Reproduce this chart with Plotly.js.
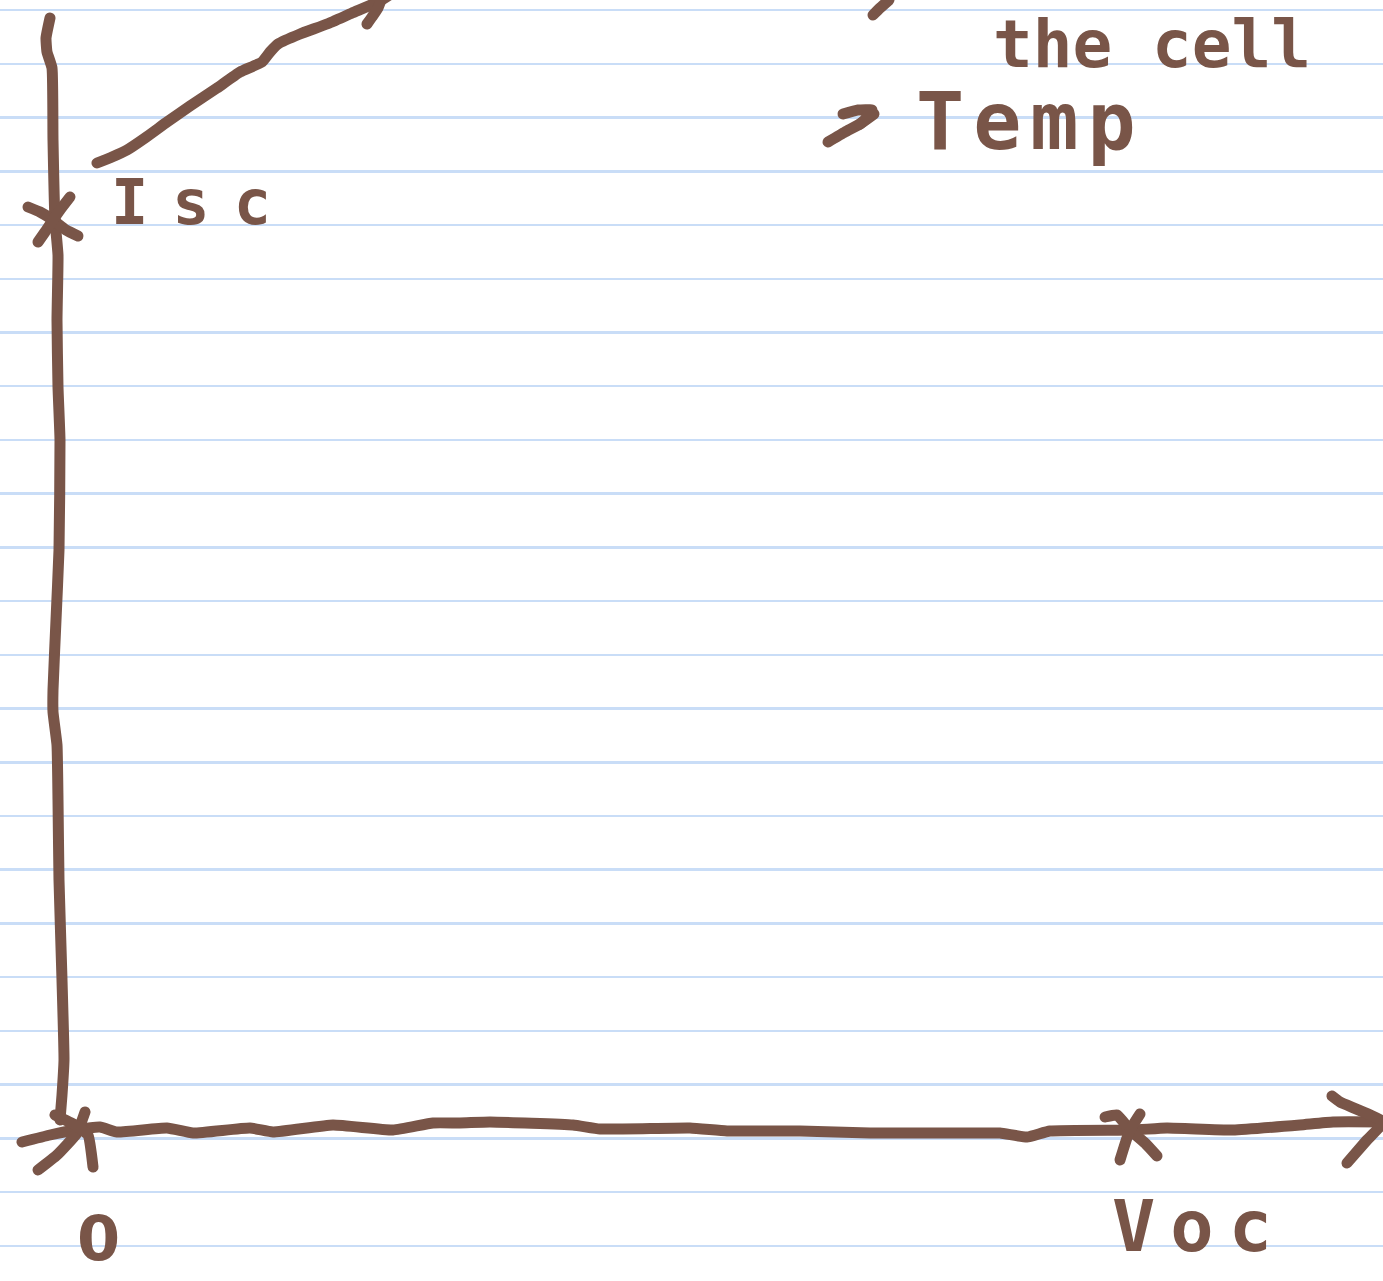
<!DOCTYPE html>
<html>
<head>
<meta charset="utf-8">
<script src="https://cdn.plot.ly/plotly-3.0.1.min.js"></script>
<style>
  html, body { margin: 0; padding: 0; background: #ffffff; }
  #chart { width: 1383px; height: 1281px; }
  .js-line { stroke-linecap: round !important; stroke-linejoin: round !important; }
</style>
</head>
<body>
<div id="chart"></div>
<script>
// ---- sketch strokes (page coordinates) ----
const yAxisX = [50,46,47,52,53,55,58,57,58,60,59,56,53,53,57,58,59,62,64,62,60];
const yAxisY = [18,38,52,68,140,220,255,320,387,440,550,620,690,712,745,800,880,980,1060,1095,1120];

const xAxisX = [22,50,75,100,117,167,193,250,273,333,393,433,460,490,573,600,690,727,800,870,970,1000,1027,1050,1133,1167,1233,1300,1333,1383];
const xAxisY = [1142,1135,1130,1127,1132,1128,1133,1128,1132,1125,1130,1123,1123,1122,1125,1129,1128,1131,1131,1133,1133,1133,1137,1131,1130,1128,1130,1125,1122,1122];

const xArrowX = [1332,1340,1383,1367,1347];
const xArrowY = [1096,1102,1122,1140,1163];

const originCrossAX = [85,77,57,38];
const originCrossAY = [1112,1133,1155,1170];
const originCrossBX = [55,75,88,93];
const originCrossBY = [1115,1125,1135,1167];

const iscCrossAX = [28,40,53,66,78];
const iscCrossAY = [207,212,220,230,236];
const iscCrossBX = [70,60,53,45,38];
const iscCrossBY = [197,210,220,232,242];

const vocCrossAX = [1105,1117,1130,1145,1157];
const vocCrossAY = [1117,1115,1130,1143,1156];
const vocCrossBX = [1140,1133,1128,1120];
const vocCrossBY = [1114,1125,1135,1160];

const curveX = [97,112,127,145,167,190,217,240,262,270,278,300,327,352,380,388];
const curveY = [163,157,150,138,122,106,88,72,62,52,44,34,24,13,1,-4];
const curveHeadX = [367,372,378,381];
const curveHeadY = [24,17,8,0];

const tempArrowX = [828,845,860,874];
const tempArrowY = [142,132,124,114];
const tempHeadX = [843,858,872,868,860];
const tempHeadY = [114,110,110,117,124];

const topFragX = [873,880,889];
const topFragY = [15,8,0];

// ---- labels ----
const labelText = ['Isc', 'Temp', 'the cell', 'Voc', '0'];
const labelX    = [203, 1030, 1152, 1199, 98];
const labelY    = [202, 121, 44, 1226, 1238];

// ---- ruled paper ----
const ruleStart = 10.2;
const ruleStep = 53.72;

const ink = '#795548';
const strokes = [
  [yAxisX, yAxisY], [xAxisX, xAxisY], [xArrowX, xArrowY],
  [originCrossAX, originCrossAY], [originCrossBX, originCrossBY],
  [iscCrossAX, iscCrossAY], [iscCrossBX, iscCrossBY],
  [vocCrossAX, vocCrossAY], [vocCrossBX, vocCrossBY],
  [curveX, curveY], [curveHeadX, curveHeadY],
  [tempArrowX, tempArrowY], [tempHeadX, tempHeadY],
  [topFragX, topFragY]
];

const traces = strokes.map(s => ({
  type: 'scatter', mode: 'lines', x: s[0], y: s[1],
  line: { color: ink, width: 11, shape: 'spline', smoothing: 0.4 },
  hoverinfo: 'skip', showlegend: false, cliponaxis: true
}));

const labelStyle = [
  { family: 'DejaVu Sans Mono', size: 62, spacing: 24 },
  { family: 'DejaVu Sans Mono', size: 80, spacing: 9 },
  { family: 'DejaVu Sans Mono', size: 66, spacing: 0 },
  { family: 'DejaVu Sans Mono', size: 72, spacing: 15 },
  { family: 'DejaVu Sans', size: 62, spacing: 0 }
];

const annotations = labelText.map((t, i) => ({
  x: labelX[i], y: labelY[i], xref: 'x', yref: 'y',
  text: labelStyle[i].spacing ? '<span style="letter-spacing:' + labelStyle[i].spacing + 'px">' + t + '</span>' : t,
  showarrow: false, xanchor: 'center', yanchor: 'middle',
  font: { family: labelStyle[i].family, size: labelStyle[i].size, color: ink, weight: 'bold' }
}));

const layout = {
  width: 1383, height: 1281,
  margin: { l: 0, r: 0, t: 0, b: 0, pad: 0 },
  paper_bgcolor: '#ffffff', plot_bgcolor: '#ffffff',
  showlegend: false,
  xaxis: { range: [0, 1383], showgrid: false, zeroline: false, showline: false,
           showticklabels: false, ticks: '', fixedrange: true },
  yaxis: { range: [1281, 0], showgrid: true, gridcolor: '#c9ddf7', gridwidth: 2.5,
           tick0: ruleStart, dtick: ruleStep, tickmode: 'linear',
           zeroline: false, showline: false, showticklabels: false, ticks: '', fixedrange: true },
  annotations: annotations
};

Plotly.newPlot('chart', traces, layout, { staticPlot: true, displayModeBar: false });
</script>
</body>
</html>
